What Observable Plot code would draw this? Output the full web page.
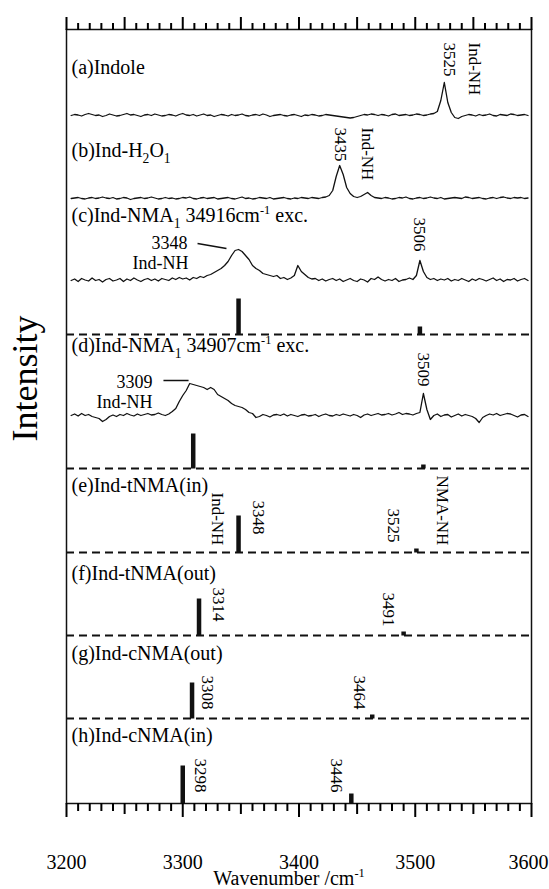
<!DOCTYPE html>
<html>
<head>
<meta charset="utf-8">
<script src="https://cdn.jsdelivr.net/npm/d3@7"></script>
<script src="https://cdn.jsdelivr.net/npm/@observablehq/plot@0.6"></script>
<style>
  html, body { margin: 0; padding: 0; background: #fff; }
  #chart { width: 549px; height: 889px; }
</style>
</head>
<body>
<div id="chart"></div>
<script>
// ---------------- data ----------------
// spectra sampled every 3 cm-1 starting at 3204 cm-1 (intensity, arbitrary units)
const wnStart = 3204, wnStep = 3;

const traceA = [
0, 1, 0.5, -0.5, 1, 2, 1, 0, 0.5, -1,
0, 1.5, 0.5, -0.5, 0, 1, 2, 0.5, 1, 0,
-1, 0.5, 1, 0, 1.5, 0.5, -0.5, 0, 1, 0.5,
-0.5, 1, 2, 0.5, 0, 1, -0.5, 0.5, 1.5, 0,
0.5, -1, 0, 1, 0.5, -0.5, 1, 0, 0.5, 1.5,
0, -0.5, 0.5, 1, 0, 1.5, 0.5, -1, 0, 0.5,
1, 0, -0.5, 0.5, 1, 0, -1, 0.5, 0, 1,
0.5, -0.5, 0, 1, 0.5, 0, -0.5, -1, -1.5, -2,
-2.5, -2, -1, 0, 1, 0.5, 1.5, 1, 0, 1,
0.5, -0.5, 1, 1.5, 0, 0.5, 1, 0, 0.5, 1.5,
1, 0, 0.5, 1.5, 2, 4, 15, 33, 13, 3,
-2, -3, -1, 0, 1, 0.5, -0.5, 1, 0, 0.5,
1.5, 0, -0.5, 1, 0.5, 0, 1.5, 1, 0, 0.5, 1, 0];

const traceB = [
0, 0.5, 1, 0, -0.5, 0.5, 1, 0, 0.5, 1.5,
0.5, 0, 1, -0.5, 0, 1, 0.5, -1, 0, 0.5,
1, 0, 0.5, 1.5, 0.5, -0.5, 0, 1, 0, 0.5,
-0.5, 0, 1, 0.5, 1.5, 0, -0.5, 0.5, 1, 0,
0.5, 1, -0.5, 0, 0.5, 1, 0, -0.5, 0.5, 1.5,
0, 0.5, -0.5, 0, 1, 0.5, 0, 1, -0.5, 0,
0.5, 1, 0, -0.5, 0.5, 0, 1, 0.5, 0, 1,
0.5, 0, 1, 1.5, 3, 8, 22, 33, 24, 11,
5, 2, 1, 2, 4, 6, 3, 1, 0.5, 0,
1, 0.5, -0.5, 0, 1, 0.5, 1.5, 0, -0.5, 0.5,
1, 0, 0.5, 1.5, 0.5, 0, 1, -0.5, 0, 0.5,
1, 0.5, 0, 1.5, 1, 0, 0.5, 1, 0, -0.5,
0.5, 1, 0, 1, 1.5, 0.5, 0, 1, 0.5, 1, 0, 0.5];

const traceC = [
0, 1.5, -1, 2, 0.5, -0.5, 2.5, 0, 1, -1.5,
1, 2, -0.5, 0.5, 2, -1, 1.5, 0, 2.5, 0.5,
-1, 1, 2, 0, 1.5, -0.5, 2, 1, 0, 2.5,
1, 3, 1.5, 2.5, 0.5, 3, 2, 4, 3, 5,
6, 8, 10, 12, 15, 19, 25, 30, 31, 29,
25, 21, 15, 12, 10, 7, 6, 5, 4, 5,
2, 3, 1, 2.5, 5, 15, 9, 6, 3, 1.5,
2, 0, 1.5, -0.5, 1, 2, 0, 1.5, -1, 0.5,
2, 0, -1, 1.5, 0.5, -1.5, 2, 1, 3.5, 1,
-0.5, 1, 0, 2, -1, 0.5, 1, 2.5, 1, 5,
20, 9, 3, 1, 2, 0, 1.5, 0.5, 2, -0.5,
1, 0, 2, 0.5, -1, 1.5, 0, 2, 1, -0.5,
1, 2.5, 0, 1.5, -1, 1, 0.5, 2, -0.5, 1, 2, 0];

const traceD = [
0, 1.5, -0.5, 2, 0, 1, -1, -2, -3, -6,
-4, -1, 0.5, -1, 1, 0, 2, 0.5, -0.5, 1.5,
0, 1, 2, 0.5, 1, 2.5, 1, 0, 1.5, 4,
7, 14, 20, 25, 32, 31, 30, 29, 28, 26,
28, 26, 21, 19, 17, 15, 12, 10, 9, 8,
6, 3, 2, -2, -1, 1, 0, -1.5, 0.5, 1,
0, 1.5, -0.5, 1, 0, -1, 0.5, 1, -0.5, 0,
1, -1, 0.5, 1.5, 0, -0.5, 1, 0, 1.5, 0.5,
-0.5, 1, 0, -2, 0.5, 1.5, 0, 1, 2, 0.5,
1, 2, 0.5, 1.5, 3, 1, 2, 1.5, 0.5, 2,
3, 22, 6, -4, 0, 1.5, -1, 0.5, 1, -1.5,
0, 1.5, -0.5, 1, 0, -1, -3, -7, -2, 0,
1.5, 0.5, 2, 0, 1, 2, 1.5, 0, -1.5, 0.5, 1, -1];

// calculated stick spectra (wavenumber, intensity)
const sticksC_wn = [3348, 3504], sticksC_int = [36, 8];
const sticksD_wn = [3309, 3507], sticksD_int = [35, 4];
const sticksE_wn = [3348, 3501], sticksE_int = [37, 4];
const sticksF_wn = [3314, 3490], sticksF_int = [37, 4];
const sticksG_wn = [3308, 3463], sticksG_int = [36, 4];
const sticksH_wn = [3300, 3445], sticksH_int = [38, 10];

// texts
const panelLabels = ["(a)Indole", "(b)Ind-H_{2}O_{1}", "(c)Ind-NMA_{1} 34916cm^{-1} exc.",
  "(d)Ind-NMA_{1} 34907cm^{-1} exc.", "(e)Ind-tNMA(in)", "(f)Ind-tNMA(out)",
  "(g)Ind-cNMA(out)", "(h)Ind-cNMA(in)"];
const peakLabels = ["3525", "Ind-NH", "3435", "Ind-NH", "3506", "3509", "Ind-NH", "3348",
  "3525", "NMA-NH", "3314", "3491", "3308", "3464", "3298", "3446"];
const sideLabels = ["3348", "Ind-NH", "3309", "Ind-NH"];
const xTickLabels = [3200, 3300, 3400, 3500, 3600];
const xTitle = "Wavenumber /cm^{-1}";
const yTitle = "Intensity";

// ---------------- layout (positions in y units, 1 unit = 1 px) ----------------
const traceBase = [688, 605, 523, 388];
const stickBase = [469, 335, 251, 168, 85, 0];
const panelLabelY = [736, 653, 588, 458, 318, 230, 150, 68];
const peakLabelX = [3529.5, 3551, 3435.7, 3459, 3503.7, 3507, 3330, 3365, 3481, 3523, 3331, 3477, 3321, 3452, 3315, 3432];
const peakLabelTop = [761, 761, 676, 676, 586, 451, 311, 303, 295, 328, 216, 211, 128, 128, 45, 45];
const sideLabelX = [3304, 3305, 3274, 3274];
const sideLabelY = [560, 540, 421, 401];
const leaders = [
  {x1: 3312.7, y1: 560, x2: 3337.6, y2: 555},
  {x1: 3283.4, y1: 423, x2: 3305, y2: 423}
];

const traces = [traceA, traceB, traceC, traceD];
const lineRows = [];
traces.forEach((vals, i) => {
  vals.forEach((v, k) => lineRows.push({panel: i, wn: wnStart + k * wnStep, y: traceBase[i] + v}));
});

const stickSets = [[sticksC_wn, sticksC_int], [sticksD_wn, sticksD_int], [sticksE_wn, sticksE_int],
  [sticksF_wn, sticksF_int], [sticksG_wn, sticksG_int], [sticksH_wn, sticksH_int]];
const stickRows = [];
stickSets.forEach(([wns, ints], i) => {
  wns.forEach((w, j) => stickRows.push({wn: w, y1: stickBase[i], y2: stickBase[i] + ints[j]}));
});
const dashLevels = stickBase.slice(0, 5);

const panelRows = panelLabels.map((t, i) => ({t, y: panelLabelY[i]}));
const peakRows = peakLabels.map((t, i) => ({t, x: peakLabelX[i], y: peakLabelTop[i]}));
const sideRows = sideLabels.map((t, i) => ({t, x: sideLabelX[i], y: sideLabelY[i]}));

// axis tick positions
const ticks10 = d3.range(3200, 3601, 10).filter(d => d % 50 !== 0);
const ticks50 = d3.range(3200, 3601, 50);
const ticks50odd = ticks50.filter(d => d % 100 !== 0);
const TOP = 774;
const noText = () => "";
const tickStyle = {stroke: "black", strokeWidth: 2, label: null, tickFormat: noText};

const plot = Plot.plot({
  width: 549,
  height: 889,
  marginLeft: 66,
  marginRight: 18,
  marginTop: 29,
  marginBottom: 86,
  x: {domain: [3200, 3600], axis: null},
  y: {domain: [0, TOP], axis: null},
  style: {fontFamily: "'Liberation Serif', 'Times New Roman', serif", fontSize: "20px", background: "white", color: "black"},
  marks: [
    Plot.ruleY(dashLevels, {y: d => d, stroke: "#111", strokeWidth: 2, strokeDasharray: "8,5"}),
    Plot.link(stickRows, {x1: "wn", x2: "wn", y1: "y1", y2: "y2", stroke: "#111", strokeWidth: 4.5}),
    Plot.line(lineRows, {x: "wn", y: "y", z: "panel", stroke: "#111", strokeWidth: 1.3}),
    Plot.frame({stroke: "#111", strokeWidth: 1.5}),
    // ticks, top (outward)
    Plot.axisX({anchor: "top", ticks: ticks50, tickSize: 13, ...tickStyle}),
    Plot.axisX({anchor: "top", ticks: ticks10, tickSize: 7, ...tickStyle}),
    // ticks, bottom (outward)
    Plot.axisX({anchor: "bottom", ticks: xTickLabels, tickSize: 14, ...tickStyle}),
    Plot.axisX({anchor: "bottom", ticks: ticks50odd, tickSize: 11, ...tickStyle}),
    Plot.axisX({anchor: "bottom", ticks: ticks10, tickSize: 8, ...tickStyle}),
    // tick labels
    Plot.text(xTickLabels.slice(0, 4), {x: d => d, frameAnchor: "bottom", dy: 59, text: d => String(d), fontSize: 20, lineAnchor: "middle"}),
    Plot.text(xTickLabels.slice(4), {x: d => d, frameAnchor: "bottom", dy: 59, dx: -3, text: d => String(d), fontSize: 20, lineAnchor: "middle"}),
    // axis titles
    Plot.text([xTitle], {frameAnchor: "bottom", dx: -10, dy: 75, text: d => d, fontSize: 20, lineAnchor: "middle"}),
    Plot.text([yTitle], {x: () => 3164.5, y: () => 425, text: d => d, rotate: -90, fontSize: 36, lineAnchor: "middle"}),
    // panel labels
    Plot.text(panelRows, {frameAnchor: "left", y: "y", dx: 5, text: "t", textAnchor: "start", lineAnchor: "middle", fontSize: 20}),
    // rotated peak labels
    Plot.text(peakRows, {x: "x", y: "y", text: "t", rotate: 90, textAnchor: "start", lineAnchor: "middle", fontSize: 17}),
    // horizontal labels with leaders
    Plot.text(sideRows, {x: "x", y: "y", text: "t", textAnchor: "end", lineAnchor: "middle", fontSize: 18}),
    Plot.link(leaders, {x1: "x1", y1: "y1", x2: "x2", y2: "y2", stroke: "#111", strokeWidth: 1.5})
  ]
});

document.getElementById("chart").appendChild(plot);

// render _{..} and ^{..} as sub/superscripts
plot.querySelectorAll("text").forEach(el => {
  const s = el.textContent;
  if (!/[_^]\{/.test(s)) return;
  const fs = parseFloat(getComputedStyle(el).fontSize) || 20;
  const parts = s.split(/([_^]\{[^}]*\})/).filter(p => p.length);
  while (el.firstChild) el.removeChild(el.firstChild);
  const NS = "http://www.w3.org/2000/svg";
  let shift = 0;
  parts.forEach(p => {
    const ts = document.createElementNS(NS, "tspan");
    let target = 0;
    if (p.startsWith("_{")) { target = fs * 0.28; ts.setAttribute("font-size", fs * 0.68); p = p.slice(2, -1); }
    else if (p.startsWith("^{")) { target = -fs * 0.38; ts.setAttribute("font-size", fs * 0.62); p = p.slice(2, -1); }
    const dy = target - shift;
    if (dy !== 0) ts.setAttribute("dy", dy);
    shift = target;
    ts.textContent = p;
    el.appendChild(ts);
  });
});
</script>
</body>
</html>
